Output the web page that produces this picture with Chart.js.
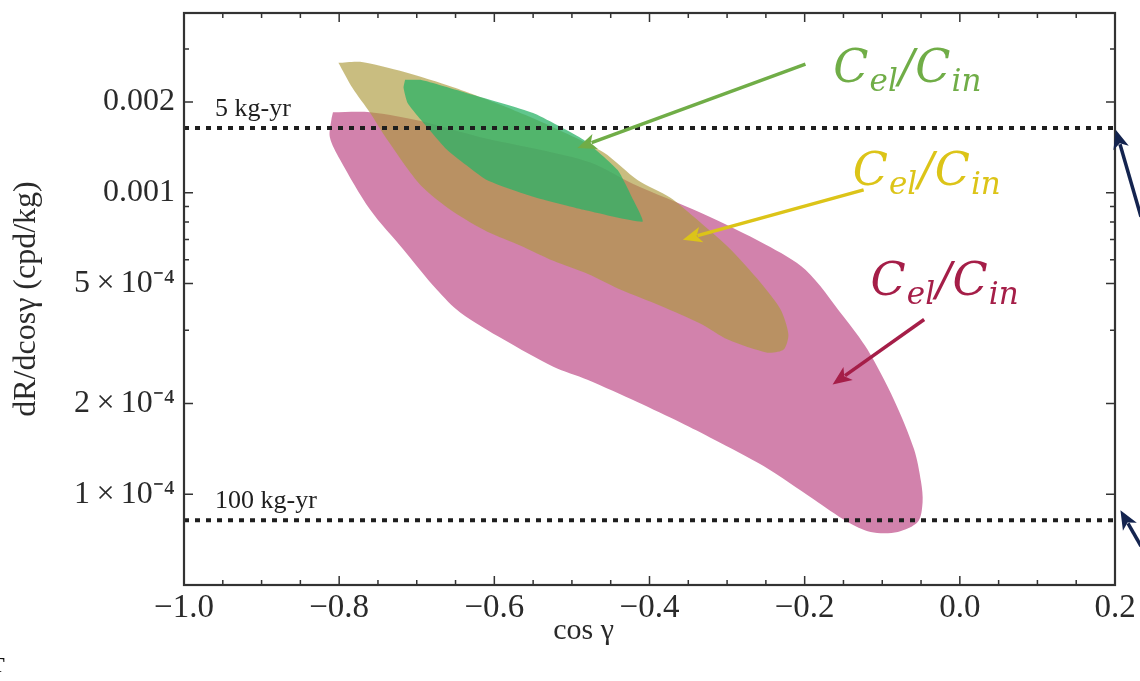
<!DOCTYPE html>
<html>
<head>
<meta charset="utf-8">
<script src="https://cdn.jsdelivr.net/npm/chart.js@4.4.0/dist/chart.umd.min.js"></script>
<style>
  html, body { margin: 0; padding: 0; background: #fff; }
  #wrap { width: 1140px; height: 681px; }
</style>
</head>
<body>
<div id="wrap"><canvas id="chart" width="1140" height="681"></canvas></div>
<script>
// axes
const xMin = -1.0, xMax = 0.2;
const yMin = 5.0e-5, yMax = 3.95e-3;
const xTicks = [-1.0, -0.8, -0.6, -0.4, -0.2, 0.0, 0.2];
const xTickLabels = ['\u22121.0', '\u22120.8', '\u22120.6', '\u22120.4', '\u22120.2', '0.0', '0.2'];
const xMinorTicks = [-0.95, -0.9, -0.85, -0.75, -0.7, -0.65, -0.55, -0.5, -0.45, -0.35, -0.3, -0.25, -0.15, -0.1, -0.05, 0.05, 0.1, 0.15];
const yTicks = [1e-4, 2e-4, 5e-4, 1e-3, 2e-3];
const yTickLabels = ['1\u2009\u00d7\u200910\u207b\u2074', '2\u2009\u00d7\u200910\u207b\u2074', '5\u2009\u00d7\u200910\u207b\u2074', '0.001', '0.002'];
const yMinorTicks = [3.5e-4, 6e-4, 7e-4, 8e-4, 9e-4, 3e-3];
const xTitle = 'cos \u03b3';
const yTitle = 'dR/dcos\u03b3 (cpd/kg)';

// exposure sensitivity lines
const exposureLabels = ['5 kg-yr', '100 kg-yr'];
const exposureRates = [1.64e-3, 8.2e-5];

// allowed regions (outlines, cos gamma vs rate)
const pinkX = [-0.808, -0.760, -0.695, -0.618, -0.541, -0.476, -0.421, -0.334, -0.250, -0.199, -0.150, -0.119, -0.085, -0.059, -0.050, -0.048, -0.054, -0.080, -0.115, -0.145, -0.188, -0.253, -0.317, -0.360, -0.415, -0.480, -0.524, -0.588, -0.644, -0.674, -0.717, -0.760, -0.799, -0.812, -0.810, -0.808];
const pinkY = [1.85e-3, 1.85e-3, 1.73e-3, 1.53e-3, 1.39e-3, 1.26e-3, 1.07e-3, 0.859e-3, 0.673e-3, 0.556e-3, 0.389e-3, 0.302e-3, 0.206e-3, 0.141e-3, 0.110e-3, 0.094e-3, 0.081e-3, 0.075e-3, 0.075e-3, 0.081e-3, 0.096e-3, 0.124e-3, 0.152e-3, 0.173e-3, 0.202e-3, 0.240e-3, 0.265e-3, 0.326e-3, 0.401e-3, 0.477e-3, 0.648e-3, 0.878e-3, 1.29e-3, 1.53e-3, 1.75e-3, 1.85e-3];

const oliveX = [-0.801, -0.773, -0.717, -0.653, -0.588, -0.524, -0.459, -0.415, -0.373, -0.343, -0.299, -0.257, -0.231, -0.221, -0.227, -0.248, -0.299, -0.334, -0.386, -0.437, -0.480, -0.524, -0.566, -0.609, -0.653, -0.695, -0.738, -0.760, -0.783, -0.801];
const oliveY = [2.70e-3, 2.72e-3, 2.52e-3, 2.24e-3, 1.94e-3, 1.65e-3, 1.36e-3, 1.10e-3, 0.963e-3, 0.833e-3, 0.662e-3, 0.504e-3, 0.410e-3, 0.339e-3, 0.302e-3, 0.295e-3, 0.326e-3, 0.368e-3, 0.422e-3, 0.477e-3, 0.539e-3, 0.595e-3, 0.668e-3, 0.743e-3, 0.865e-3, 1.06e-3, 1.50e-3, 1.84e-3, 2.23e-3, 2.70e-3];

const greenX = [-0.715, -0.695, -0.635, -0.550, -0.485, -0.441, -0.421, -0.409, -0.485, -0.550, -0.609, -0.661, -0.695, -0.712, -0.717, -0.715];
const greenY = [2.37e-3, 2.37e-3, 2.14e-3, 1.84e-3, 1.50e-3, 1.19e-3, 0.948e-3, 0.802e-3, 0.878e-3, 0.970e-3, 1.10e-3, 1.39e-3, 1.75e-3, 1.99e-3, 2.23e-3, 2.37e-3];

// annotation arrows (data coords) and labels
const arrowColors = ['#70AD47', '#DCC418', '#A51E48', '#14244F', '#14244F'];
const arrowFromX = [-0.199, -0.124, -0.046, 0.2335, 0.2335];
const arrowFromY = [2.674e-3, 1.023e-3, 0.380e-3, 0.833e-3, 0.0673e-3];
const arrowToX = [-0.493, -0.357, -0.164, 0.201, 0.207];
const arrowToY = [1.409e-3, 0.699e-3, 0.2313e-3, 1.62e-3, 0.0885e-3];
const ratioColors = ['#70AD47', '#DCC418', '#A51E48'];
const ratioX = [-0.163, -0.138, -0.115];
const ratioY = [2.331e-3, 1.063e-3, 0.4595e-3];

const pts = (xs, ys) => xs.map((x, i) => ({x: x, y: ys[i]}));

function region(data, color, order, tension) {
    return {
        data: data,
        showLine: true,
        fill: 'shape',
        backgroundColor: color,
        borderWidth: 0,
        borderColor: 'rgba(0,0,0,0)',
        pointRadius: 0,
        tension: tension,
        order: order
    };
}

function exposureLine(rate) {
    return {
        data: [{x: xMin, y: rate}, {x: xMax, y: rate}],
        showLine: true,
        fill: false,
        borderColor: '#1e1e1e',
        borderWidth: 4,
        borderDash: [5, 6],
        borderCapStyle: 'butt',
        pointRadius: 0,
        order: 0
    };
}

function arrow(ctx, x1, y1, x2, y2, color) {
    const ang = Math.atan2(y2 - y1, x2 - x1);
    const head = 19, half = 8;
    ctx.save();
    ctx.strokeStyle = color;
    ctx.fillStyle = color;
    ctx.lineWidth = 3.5;
    ctx.beginPath();
    ctx.moveTo(x1, y1);
    ctx.lineTo(x2 - Math.cos(ang) * head * 0.8, y2 - Math.sin(ang) * head * 0.8);
    ctx.stroke();
    ctx.beginPath();
    ctx.moveTo(x2, y2);
    ctx.lineTo(x2 - Math.cos(ang) * head - Math.sin(ang) * half, y2 - Math.sin(ang) * head + Math.cos(ang) * half);
    ctx.lineTo(x2 - Math.cos(ang) * head * 0.75, y2 - Math.sin(ang) * head * 0.75);
    ctx.lineTo(x2 - Math.cos(ang) * head + Math.sin(ang) * half, y2 - Math.sin(ang) * head - Math.cos(ang) * half);
    ctx.closePath();
    ctx.fill();
    ctx.restore();
}

function ratioLabel(ctx, x, y, color) {
    const big = 'italic 46px "DejaVu Serif"';
    const small = 'italic 31px "DejaVu Serif"';
    const parts = [['C', big, 0], ['el', small, 9], ['/', big, 0], ['C', big, 0], ['in', small, 9]];
    ctx.save();
    ctx.fillStyle = color;
    ctx.textBaseline = 'alphabetic';
    ctx.textAlign = 'left';
    let cx = x;
    parts.forEach(p => {
        ctx.font = p[1];
        ctx.fillText(p[0], cx, y + p[2]);
        cx += ctx.measureText(p[0]).width + 1;
    });
    ctx.restore();
}

const decorations = {
    id: 'decorations',
    afterDraw(chart) {
        const {ctx, chartArea: a, scales: {x, y}} = chart;

        // exposure labels
        ctx.save();
        ctx.fillStyle = '#1e1e1e';
        ctx.font = '26px "Liberation Serif"';
        ctx.textBaseline = 'alphabetic';
        exposureLabels.forEach((t, i) => {
            ctx.fillText(t, x.getPixelForValue(-0.96), y.getPixelForValue(exposureRates[i]) - 12);
        });
        ctx.restore();

        // frame with inward ticks on all sides
        ctx.save();
        ctx.strokeStyle = '#333';
        ctx.lineWidth = 1.5;
        ctx.beginPath();
        const xt = (v, len) => {
            const p = x.getPixelForValue(v);
            ctx.moveTo(p, a.bottom); ctx.lineTo(p, a.bottom - len);
            ctx.moveTo(p, a.top); ctx.lineTo(p, a.top + len);
        };
        const yt = (v, len) => {
            const p = y.getPixelForValue(v);
            ctx.moveTo(a.left, p); ctx.lineTo(a.left + len, p);
            ctx.moveTo(a.right, p); ctx.lineTo(a.right - len, p);
        };
        xTicks.forEach(v => xt(v, 9));
        xMinorTicks.forEach(v => xt(v, 5));
        yTicks.forEach(v => yt(v, 9));
        yMinorTicks.forEach(v => yt(v, 5));
        ctx.stroke();
        ctx.lineWidth = 2.2;
        ctx.strokeRect(a.left, a.top, a.right - a.left, a.bottom - a.top);
        ctx.restore();

        // x title sits left of centre in the original figure
        ctx.save();
        ctx.fillStyle = '#2a2a2a';
        ctx.font = '30px "Liberation Serif"';
        ctx.textAlign = 'center';
        ctx.textBaseline = 'middle';
        ctx.fillText(xTitle, x.getPixelForValue(-0.485), 631);
        ctx.restore();

        // arrows and ratio labels
        arrowColors.forEach((c, i) => {
            arrow(ctx, x.getPixelForValue(arrowFromX[i]), y.getPixelForValue(arrowFromY[i]),
                  x.getPixelForValue(arrowToX[i]), y.getPixelForValue(arrowToY[i]), c);
        });
        ratioColors.forEach((c, i) => {
            ratioLabel(ctx, x.getPixelForValue(ratioX[i]), y.getPixelForValue(ratioY[i]), c);
        });

        // clipped letter at the lower left of the slide
        ctx.save();
        ctx.fillStyle = '#111';
        ctx.font = 'bold 22px "Liberation Serif"';
        ctx.fillText('T', -10, 672);
        ctx.restore();
    }
};

function main() {
    const canvas = document.querySelector('#chart');
    new Chart(canvas.getContext('2d'), {
        type: 'scatter',
        data: {
            datasets: [
                exposureLine(exposureRates[0]),
                exposureLine(exposureRates[1]),
                region(pts(greenX, greenY), 'rgba(43,179,103,0.75)', 1, 0.15),
                region(pts(oliveX, oliveY), 'rgba(172,154,60,0.65)', 2, 0.25),
                region(pts(pinkX, pinkY), 'rgb(210,130,172)', 3, 0.3)
            ]
        },
        options: {
            responsive: false,
            animation: false,
            devicePixelRatio: 1,
            layout: {padding: {top: 13, right: 25, left: 0, bottom: 0}},
            plugins: {legend: {display: false}, tooltip: {enabled: false}},
            scales: {
                x: {
                    type: 'linear',
                    min: xMin,
                    max: xMax,
                    afterBuildTicks: s => { s.ticks = xTicks.map(v => ({value: v})); },
                    afterFit: s => { s.height = 96; s.paddingLeft = 0; s.paddingRight = 0; },
                    grid: {display: false, drawTicks: false},
                    border: {display: false},
                    ticks: {
                        padding: 4,
                        color: '#2a2a2a',
                        font: {family: 'Liberation Serif', size: 33},
                        maxRotation: 0,
                        autoSkip: false,
                        callback: (v, i) => xTickLabels[i]
                    },
                    title: {display: false}
                },
                y: {
                    type: 'logarithmic',
                    min: yMin,
                    max: yMax,
                    afterBuildTicks: s => { s.ticks = yTicks.map(v => ({value: v})); },
                    afterFit: s => { s.width = 184; s.paddingTop = 0; s.paddingBottom = 0; },
                    grid: {display: false, drawTicks: false},
                    border: {display: false},
                    ticks: {
                        padding: 9,
                        color: '#2a2a2a',
                        font: {family: 'Liberation Serif', size: 32},
                        autoSkip: false,
                        callback: (v, i) => yTickLabels[i]
                    },
                    title: {
                        display: true,
                        text: yTitle,
                        color: '#2a2a2a',
                        font: {family: 'Liberation Serif', size: 32},
                        padding: {top: 7, bottom: 0}
                    }
                }
            }
        },
        plugins: [decorations]
    });
}

main();
</script>
</body>
</html>
